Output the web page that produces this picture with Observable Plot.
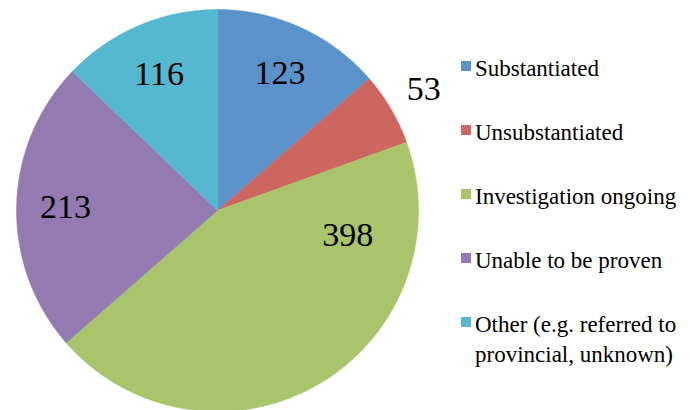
<!DOCTYPE html>
<html>
<head>
<meta charset="utf-8">
<script src="https://cdn.jsdelivr.net/npm/d3@7"></script>
<script src="https://cdn.jsdelivr.net/npm/@observablehq/plot@0.6"></script>
</head>
<body style="margin:0;padding:0;background:#fff">
<div id="wrap" style="position:relative;width:693px;height:410px;overflow:hidden"><div id="legend" style="position:absolute;left:461px;top:54px;font-family:'Liberation Serif';font-size:23px;color:#000;white-space:nowrap"></div></div>
<script>
const categories = ["Substantiated", "Unsubstantiated", "Investigation ongoing", "Unable to be proven", "Other (e.g. referred to provincial, unknown)"];
const legendLines = [["Substantiated"], ["Unsubstantiated"], ["Investigation ongoing"], ["Unable to be proven"], ["Other (e.g. referred to", "provincial, unknown)"]];
const values = [123, 53, 398, 213, 116];
const colors = ["#5b92ca", "#cd6660", "#a9c46b", "#937bb2", "#55b8d0"];

// label placement (layout only): radius fraction and optional angle override (degrees, clockwise from top)
const labelRadius = [0.75, 1.19, 0.66, 0.756, 0.74];
const labelAngleOverride = [null, null, 100.8, null, null];

const total = d3.sum(values);
const slices = [];
const labels = [];
let acc = 0;
values.forEach((v, i) => {
  const a0 = acc / total * 2 * Math.PI;
  acc += v;
  const a1 = acc / total * 2 * Math.PI;
  slices.push({category: categories[i], x: 0, y: 0});
  const n = Math.max(2, Math.ceil((a1 - a0) / (Math.PI / 360)));
  for (let k = 0; k <= n; k++) {
    const a = a0 + (a1 - a0) * k / n;
    slices.push({category: categories[i], x: Math.sin(a), y: Math.cos(a)});
  }
  slices.push({category: categories[i], x: 0, y: 0});
  const am = labelAngleOverride[i] != null ? labelAngleOverride[i] * Math.PI / 180 : (a0 + a1) / 2;
  labels.push({value: v, x: labelRadius[i] * Math.sin(am), y: labelRadius[i] * Math.cos(am)});
});

const chart = Plot.plot({
  width: 693,
  height: 410,
  margin: 0,
  x: {domain: [-1, 1], range: [16, 418], axis: null},
  y: {domain: [-1, 1], range: [411, 9], axis: null},
  color: {domain: categories, range: colors},
  style: {background: "transparent", fontFamily: "'Liberation Serif'"},
  marks: [
    Plot.line(slices, {x: "x", y: "y", z: "category", fill: "category", stroke: "category", strokeWidth: 0.5, curve: "linear"}),
    Plot.text(labels, {x: "x", y: "y", text: d => String(d.value), fontSize: 34, fontFamily: "Liberation Serif", fill: "#000", textAnchor: "middle", lineAnchor: "middle"})
  ]
});
const wrap = document.getElementById("wrap");
wrap.insertBefore(chart, wrap.firstChild);

const legend = document.getElementById("legend");
legendLines.forEach((lines, i) => {
  const item = document.createElement("div");
  item.style.cssText = "position:relative;padding-left:14px;line-height:30px;margin-bottom:34px";
  const sw = document.createElement("div");
  sw.style.cssText = "position:absolute;left:0;top:7px;width:10px;height:10px;background:" + colors[i];
  item.appendChild(sw);
  lines.forEach(t => {
    const s = document.createElement("div");
    s.textContent = t;
    item.appendChild(s);
  });
  legend.appendChild(item);
});
</script>
</body>
</html>
